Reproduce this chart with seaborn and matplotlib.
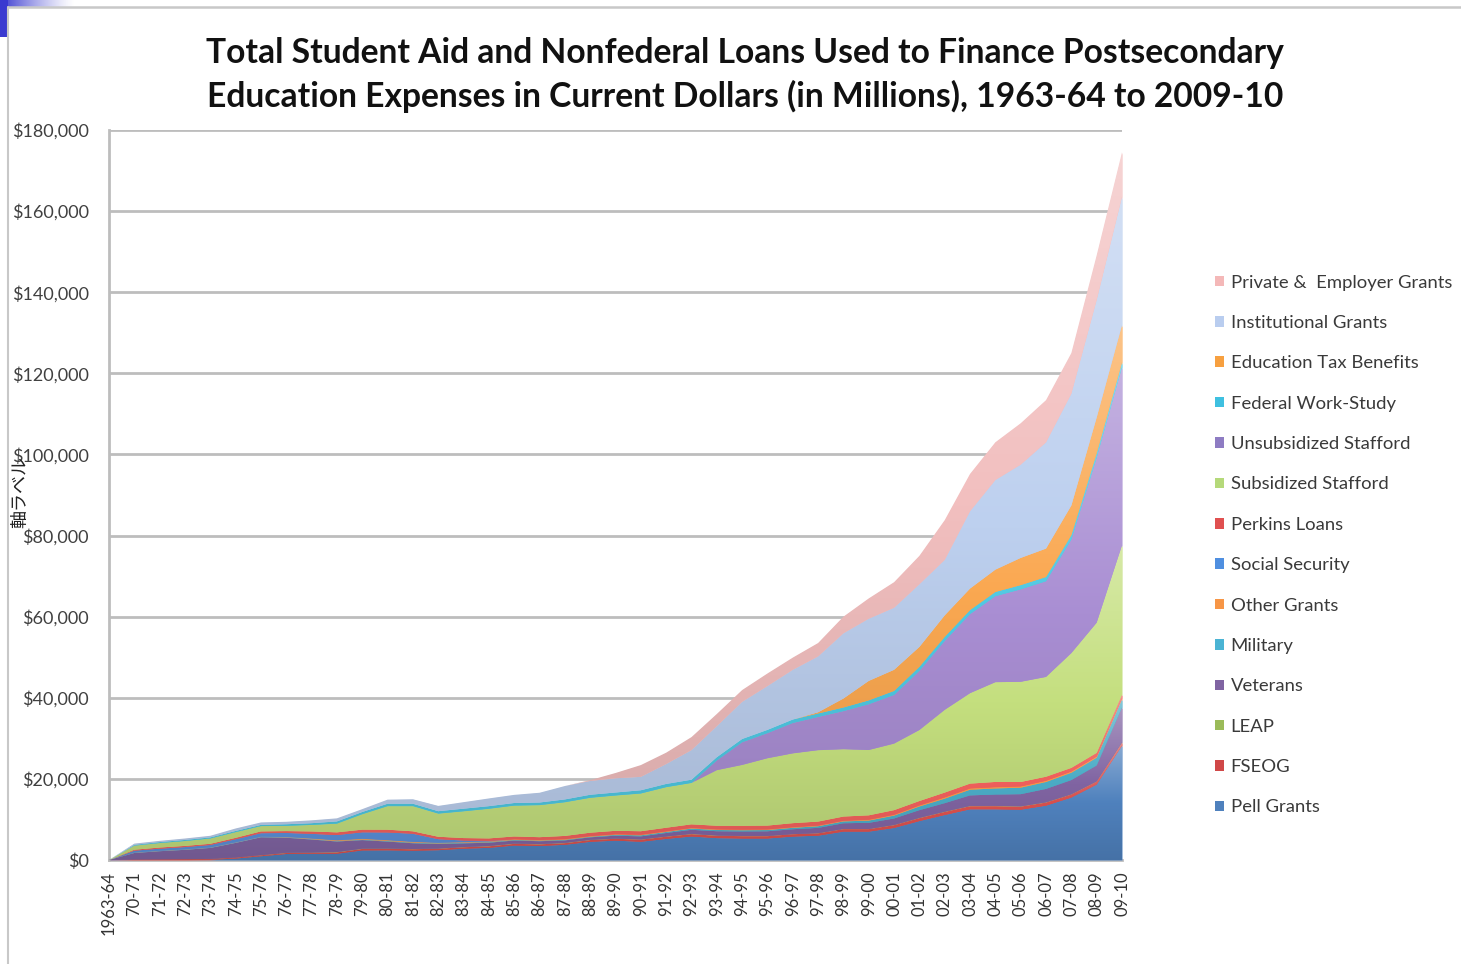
import numpy as np
import pandas as pd
import matplotlib
matplotlib.use("Agg")
import matplotlib.pyplot as plt
import matplotlib.colors as mcolors
from matplotlib.patches import Rectangle, Patch
from matplotlib.lines import Line2D
from matplotlib.ticker import FuncFormatter, MultipleLocator
import seaborn as sns

# ---- data (current dollars, $ millions) ----
years = ["1963-64", "70-71", "71-72", "72-73", "73-74", "74-75", "75-76", "76-77",
         "77-78", "78-79", "79-80", "80-81", "81-82", "82-83", "83-84", "84-85",
         "85-86", "86-87", "87-88", "88-89", "89-90", "90-91", "91-92", "92-93",
         "93-94", "94-95", "95-96", "96-97", "97-98", "98-99", "99-00", "00-01",
         "01-02", "02-03", "03-04", "04-05", "05-06", "06-07", "07-08", "08-09", "09-10"]

pell = [0, 0, 0, 0, 50, 360, 930, 1480, 1520, 1540, 2360, 2390, 2300, 2420, 2790, 3000,
        3570, 3460, 3750, 4480, 4780, 4500, 5200, 5800, 5400, 5300, 5300, 5780, 6000, 7000,
        7000, 7900, 9600, 11100, 12500, 12500, 12400, 13400, 15400, 18600, 28200]
fseog = [0, 130, 170, 210, 210, 240, 240, 250, 270, 340, 370, 370, 360, 360, 360, 380,
         410, 400, 410, 440, 460, 520, 550, 580, 580, 580, 580, 580, 580, 620,
         620, 690, 730, 760, 770, 780, 770, 770, 760, 760, 760]
leap = [0, 0, 0, 0, 20, 20, 40, 60, 60, 80, 80, 80, 70, 60, 60, 80,
        80, 70, 80, 70, 60, 60, 60, 70, 70, 60, 60, 30, 50, 50,
        50, 60, 70, 70, 70, 70, 70, 70, 60, 60, 60]
veterans = [0, 1600, 2000, 2300, 2700, 3600, 4400, 3700, 3200, 2600, 2100, 1700, 1400, 1100, 900, 800,
            750, 700, 600, 600, 700, 750, 850, 1000, 1050, 1100, 1150, 1200, 1300, 1400,
            1500, 1600, 1900, 2100, 2600, 2800, 3000, 3300, 3500, 3900, 8600]
military = [0, 70, 70, 80, 80, 90, 90, 100, 100, 100, 120, 150, 150, 150, 150, 150,
            150, 150, 150, 150, 200, 250, 250, 300, 300, 300, 300, 350, 400, 450,
            550, 700, 900, 1100, 1400, 1500, 1600, 1700, 1800, 1900, 2000]
other_grants = [0, 50, 50, 50, 50, 60, 60, 80, 150, 200, 200, 200, 200, 150, 150, 150,
                150, 150, 150, 150, 150, 150, 150, 150, 150, 150, 150, 150, 150, 150,
                200, 200, 250, 300, 300, 300, 300, 300, 300, 300, 300]
social_security = [0, 450, 500, 550, 600, 750, 850, 1000, 1150, 1300, 1600, 1900, 2000, 900, 400, 170,
                   0, 0, 0, 0, 0, 0, 0, 0, 0, 0, 0, 0, 0, 0,
                   0, 0, 0, 0, 0, 0, 0, 0, 0, 0, 0]
perkins = [0, 240, 290, 290, 290, 350, 450, 460, 600, 660, 660, 690, 600, 600, 600, 600,
           700, 700, 800, 850, 850, 870, 900, 900, 900, 950, 950, 1000, 1000, 1050,
           1100, 1150, 1100, 1200, 1200, 1300, 1100, 1000, 900, 900, 900]
sub_stafford = [0, 1000, 1100, 1200, 1300, 1400, 1300, 1300, 1600, 2150, 3800, 5800, 6200, 5700, 6600, 7300,
                7600, 7900, 8300, 8600, 8700, 9300, 10000, 10200, 13700, 15000, 16600, 17200, 17600, 16600,
                16100, 16400, 17500, 20400, 22300, 24600, 24700, 24600, 28300, 32100, 36800]
unsub_stafford = [0, 0, 0, 0, 0, 0, 0, 0, 0, 0, 0, 0, 0, 0, 0, 0,
                  0, 0, 0, 0, 0, 0, 0, 0, 2400, 5600, 6200, 7500, 8200, 9400,
                  11300, 12000, 14600, 17000, 19500, 21200, 22800, 23600, 28000, 40700, 43900]
work_study = [0, 200, 240, 270, 270, 300, 300, 390, 430, 550, 550, 600, 600, 600, 650, 650,
              650, 650, 700, 750, 750, 800, 800, 800, 800, 800, 800, 850, 850, 900,
              950, 1000, 1000, 1000, 1000, 1050, 1050, 1050, 1100, 1100, 1200]
tax_benefits = [0, 0, 0, 0, 0, 0, 0, 0, 0, 0, 0, 0, 0, 0, 0, 0,
                0, 0, 0, 0, 0, 0, 0, 0, 0, 0, 0, 0, 300, 2200,
                4800, 5200, 4900, 5300, 5300, 5500, 6700, 7000, 7300, 8800, 9200]
institutional = [0, 300, 300, 350, 400, 600, 600, 600, 700, 750, 700, 1000, 1100, 1300, 1600, 1900,
                 2000, 2400, 3300, 3400, 3500, 3300, 4900, 7300, 7650, 9160, 10800, 12260, 13770, 16080,
                 15330, 15300, 15450, 13670, 19060, 22100, 23000, 26200, 27580, 28980, 31600]
private_employer = [0, 0, 0, 0, 0, 0, 0, 0, 0, 0, 0, 0, 0, 0, 0, 0,
                    0, 0, 0, 200, 1300, 2900, 2800, 3200, 3000, 2900, 3100, 3000, 3300, 4100,
                    5000, 6300, 7000, 9800, 9200, 9300, 10200, 10400, 10000, 11000, 11000]

series_names = ["Pell Grants", "FSEOG", "LEAP", "Veterans", "Military", "Other Grants",
                "Social Security", "Perkins Loans", "Subsidized Stafford",
                "Unsubsidized Stafford", "Federal Work-Study", "Education Tax Benefits",
                "Institutional Grants", "Private &  Employer Grants"]
series_values = [pell, fseog, leap, veterans, military, other_grants, social_security,
                 perkins, sub_stafford, unsub_stafford, work_study, tax_benefits,
                 institutional, private_employer]

area_colors = ["#4F81BD", "#D8504D", "#9BBB59", "#8064A2", "#4BACC6", "#F79646",
               "#5A8FD8", "#F0605C", "#C4DF7E", "#A98ED3", "#4FC8E2", "#FAA851",
               "#BDD0EF", "#F2BFBF"]
legend_colors = ["#4F81BD", "#D04848", "#9BBB59", "#8064A2", "#4BB4D4", "#F79646",
                 "#4F8FE0", "#E05050", "#B5D97A", "#8E7CC3", "#3FC0E0", "#F7A040",
                 "#B9CDEF", "#F4B8B8"]

df = pd.DataFrame({name: vals for name, vals in zip(series_names, series_values)})
df.insert(0, "year", years)

# ---- style ----
sns.set_theme(style="whitegrid")
plt.rcParams["font.family"] = ["Lato", "DejaVu Sans"]

W, H = 1461, 964
fig = plt.figure(figsize=(W / 100, H / 100), dpi=100)
fig.patch.set_facecolor("white")

ax = fig.add_axes([109 / W, 1 - 860 / H, (1122 - 109) / W, (860 - 130) / H])
ax.set_facecolor("white")

x = np.arange(len(df))
polys = ax.stackplot(x, *[df[c].values for c in series_names],
                     colors=area_colors, linewidth=0, zorder=2)


def mix(c, other, t):
    a = np.array(mcolors.to_rgb(c))
    b = np.array(mcolors.to_rgb(other))
    return tuple(a * (1 - t) + b * t)


# vertical gradient fill for each area, lighter towards the top
grad = np.linspace(0, 1, 256).reshape(-1, 1)
for poly, col in zip(polys, area_colors):
    verts = np.vstack([p.vertices for p in poly.get_paths()])
    ymin, ymax = verts[:, 1].min(), verts[:, 1].max()
    if ymax - ymin <= 0:
        continue
    cmap = mcolors.LinearSegmentedColormap.from_list(
        "g", [mix(col, "black", 0.12), col, mix(col, "white", 0.32)])
    im = ax.imshow(grad, aspect="auto", cmap=cmap, origin="lower",
                   extent=[verts[:, 0].min(), verts[:, 0].max(), ymin, ymax],
                   interpolation="bilinear", zorder=2.1)
    im.set_clip_path(poly.get_paths()[0], ax.transData)

ax.set_xlim(0, len(df) - 1)
ax.set_ylim(0, 180000)
ax.yaxis.set_major_locator(MultipleLocator(20000))
ax.yaxis.set_major_formatter(FuncFormatter(lambda v, p: f"${v:,.0f}"))
ax.set_xticks(x)
ax.set_xticklabels(df["year"], rotation=90, ha="center", va="top")
ax.tick_params(axis="x", labelsize=12, colors="#333333", pad=8, length=0)
ax.tick_params(axis="y", labelsize=13, colors="#404040", pad=14.5, length=0)

ax.grid(axis="y", color="#BDBDBD", linewidth=2, zorder=0.5)
ax.grid(axis="x", visible=False)
ax.set_axisbelow(True)
for s in ["top", "right"]:
    ax.spines[s].set_visible(False)
for s in ["left", "bottom"]:
    ax.spines[s].set_color("#BDBDBD")
    ax.spines[s].set_linewidth(2)
    ax.spines[s].set_zorder(1)

# ---- titles and axis label ----
fig.text(745 / W, 1 - 53 / H,
         "Total Student Aid and Nonfederal Loans Used to Finance Postsecondary",
         ha="center", va="center", fontsize=24.2, fontweight="bold", color="#111111")
fig.text(745 / W, 1 - 96 / H,
         "Education Expenses in Current Dollars (in Millions), 1963-64 to 2009-10",
         ha="center", va="center", fontsize=24.2, fontweight="bold", color="#111111")
fig.text(20 / W, 1 - 492 / H, "軸ラベル", rotation=90, ha="center", va="center",
         fontsize=13, color="#222222", family=["Noto Sans CJK JP", "DejaVu Sans"])

# ---- legend (last series on top) ----
handles = [Patch(facecolor=c, edgecolor="none", label=n)
           for n, c in zip(series_names, legend_colors)][::-1]
leg = fig.legend(handles=handles, loc="center left",
                 bbox_to_anchor=(1215 / W, 1 - 545 / H), frameon=False,
                 fontsize=13.3, labelspacing=1.32, handlelength=0.5,
                 handleheight=0.5, handletextpad=0.35, borderpad=0, borderaxespad=0)
for t in leg.get_texts():
    t.set_color("#3A3A3A")

# ---- slide frame decoration ----
fig.add_artist(Line2D([8 / W, 1.0], [1 - 7 / H, 1 - 7 / H], transform=fig.transFigure,
                      color="#C8C8C8", linewidth=1.8))
fig.add_artist(Line2D([8 / W, 8 / W], [0, 1 - 7 / H], transform=fig.transFigure,
                      color="#C8C8C8", linewidth=1.5))
cax = fig.add_axes([0, 1 - 7 / H, 75 / W, 7 / H])
bar = np.ones((1, 256, 4))
bar[..., :3] = mcolors.to_rgb("#3A3AD0")
bar[0, :, 3] = np.linspace(1, 0, 256) ** 1.3
cax.imshow(bar, aspect="auto", interpolation="bilinear")
cax.axis("off")
fig.add_artist(Rectangle((0, 1 - 37 / H), 8 / W, 37 / H, transform=fig.transFigure,
                         facecolor="#3A3AD0", edgecolor="none"))

fig.savefig("out.png", dpi=100, facecolor="white")
